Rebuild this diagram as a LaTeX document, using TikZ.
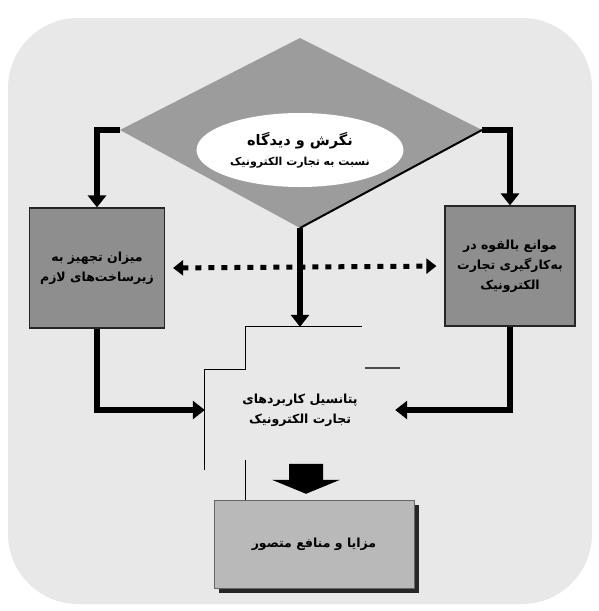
\documentclass[tikz,border=0pt]{standalone}
\usepackage{fontspec}
\newfontfamily\farsi[Script=Arabic]{DejaVu Sans}
\TeXXeTstate=1
\usetikzlibrary{arrows.meta,positioning,calc,shadows,shapes.geometric}
\definecolor{boxgray}{HTML}{8E8E8E}
\definecolor{diagray}{HTML}{9C9C9C}
\definecolor{backgray}{HTML}{E8E8E8}
\newcommand{\fa}[1]{\beginR #1\endR}

\begin{document}
\begin{tikzpicture}[x=1pt,y=-1pt,
  fa/.style={font=\farsi\bfseries\fontsize{12.5}{20}\selectfont,align=center},
  gbox/.style={draw=black!85,line width=1.2pt,fill=boxgray,minimum width=135pt,
    minimum height=120pt,fa},
  thk/.style={-{Triangle[width=18pt,length=12pt]},line width=6pt,line join=miter},
  dots/.style={{Triangle[width=15pt,length=10pt]}-{Triangle[width=15pt,length=10pt]},
    line width=5pt,dash pattern=on 6pt off 7pt,shorten <=8pt,shorten >=8pt}]
\useasboundingbox (0,0) rectangle (598,611);
\fill[backgray,rounded corners=70pt] (8,18) rectangle (592,604);
% top diamond with the ellipse
\coordinate (dt) at (300,38);
\coordinate (dl) at (120,130);
\coordinate (dr) at (482,130);
\coordinate (db) at (300,228);
\fill[diagray] (dt) -- (dr) -- (db) -- (dl) -- cycle;
\draw[line width=2pt] (dr) -- (db);
\node[ellipse,fill=white,minimum width=190pt,minimum height=74pt,fa] (view) at (300,150)
  {{\fontsize{14.5}{20}\selectfont\fa{نگرش و دیدگاه}}\\{\fontsize{11}{15}\selectfont\fa{نسبت به تجارت الکترونیک}}};
% side boxes
\node[gbox] (infra) at (97,268) {\fa{میزان تجهیز به}\\\fa{زیرساخت‌های لازم}};
\node[gbox,minimum width=130pt] (barrier) at (510,266)
  {\fa{موانع بالقوه در}\\\fa{به‌کارگیری تجارت}\\\fa{الکترونیک}};
% middle
\node[minimum width=190pt,minimum height=166pt,fa] (pot) at (300,410)
  {\fa{پتانسیل کاربردهای}\\\fa{تجارت الکترونیک}};
\draw[line width=0.8pt] ($(pot.north)+(-55,0)$) -- ($(pot.north)+(62,0)$);
\draw[line width=0.8pt] ($(pot.north)+(-55,0)$) -- ++(0,43) -| ($(pot.west)+(0,60)$);
\draw[line width=0.8pt] ($(pot.south)+(-55,-33)$) -- ++(0,40);
\draw[line width=1.5pt,black!70] ($(pot.east)+(-30,-42)$) -- ++(35,0);
% bottom box
\node[draw=black!60,fill=gray!55,drop shadow={shadow xshift=5pt,shadow yshift=-5pt,
  fill=black!85,opacity=1},minimum width=200pt,minimum height=88pt,fa] (gain) at (314,544)
  {\fa{مزایا و منافع متصور}};
% connectors
\draw[thk] (dl) -| (infra.north);
\draw[thk] (dr) -| (barrier.north);
\draw[thk] (db) -- (pot.north);
\draw[dots] (infra.east) -- (barrier.west);
\draw[thk] (infra.south) |- (pot.west);
\draw[thk] (barrier.south) |- (pot.east);
\coordinate (ga) at ($(gain.north)+(-8,-6)$);
\fill (ga) -- ++(-34,-14) -- ++(17,0) -- ++(0,-16) -- ++(34,0) -- ++(0,16) -- ++(17,0) -- cycle;
\end{tikzpicture}
\end{document}
